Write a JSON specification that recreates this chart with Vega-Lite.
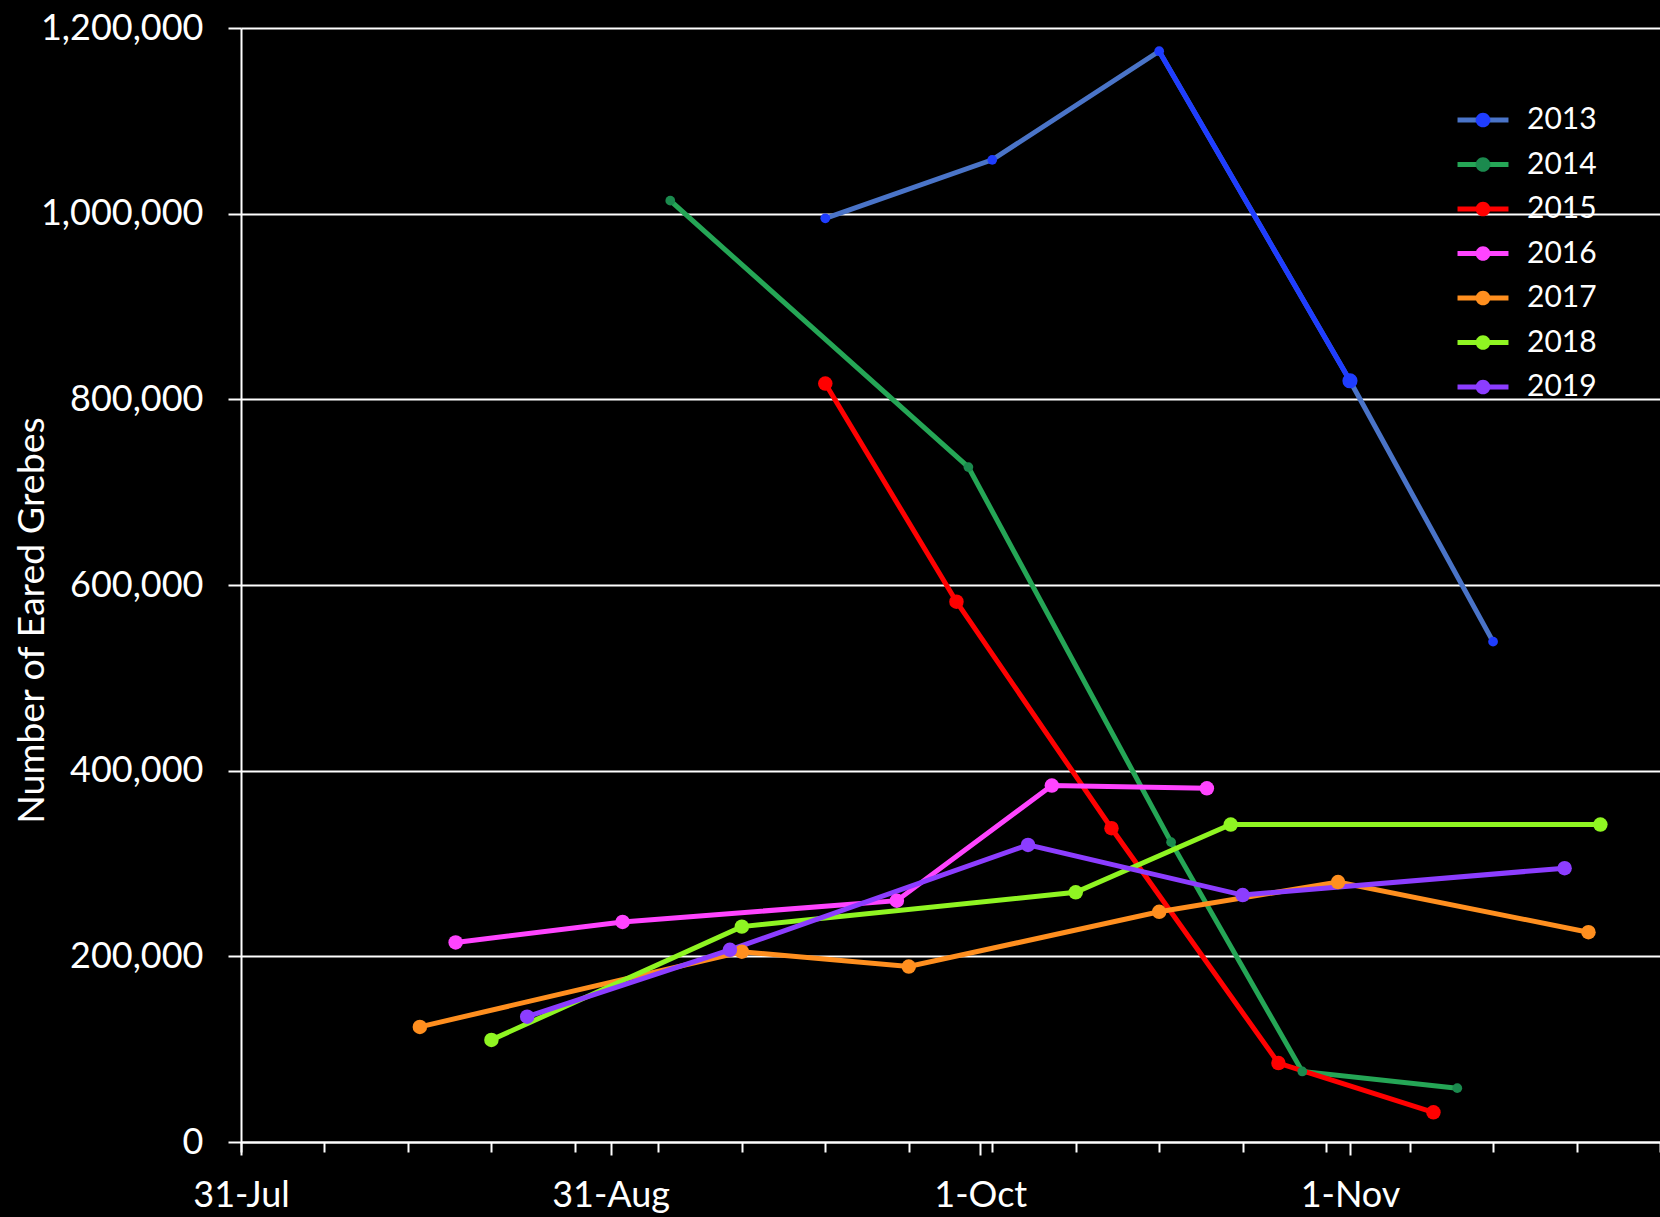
{
  "$schema": "https://vega.github.io/schema/vega-lite/v6.json",
  "width": 1419,
  "height": 1114,
  "autosize": {"type": "none"},
  "padding": {"left": 241, "top": 28, "right": 0, "bottom": 75},
  "background": "black",
  "config": {"view": {"stroke": null}, "font": "Lato"},
  "data": {"values": [
    {"year": "2013", "date": "2000-09-18", "count": 995000},
    {"year": "2013", "date": "2000-10-02", "count": 1058000},
    {"year": "2013", "date": "2000-10-16", "count": 1175000},
    {"year": "2013", "date": "2000-11-01", "count": 820000},
    {"year": "2013", "date": "2000-11-13", "count": 539000},
    {"year": "2014", "date": "2000-09-05", "count": 1014000},
    {"year": "2014", "date": "2000-09-30", "count": 727000},
    {"year": "2014", "date": "2000-10-17", "count": 323000},
    {"year": "2014", "date": "2000-10-28", "count": 76000},
    {"year": "2014", "date": "2000-11-10", "count": 58000},
    {"year": "2015", "date": "2000-09-18", "count": 817000},
    {"year": "2015", "date": "2000-09-29", "count": 582000},
    {"year": "2015", "date": "2000-10-12", "count": 338000},
    {"year": "2015", "date": "2000-10-26", "count": 85000},
    {"year": "2015", "date": "2000-11-08", "count": 32000},
    {"year": "2016", "date": "2000-08-18", "count": 215000},
    {"year": "2016", "date": "2000-09-01", "count": 237000},
    {"year": "2016", "date": "2000-09-24", "count": 260000},
    {"year": "2016", "date": "2000-10-07", "count": 384000},
    {"year": "2016", "date": "2000-10-20", "count": 381000},
    {"year": "2017", "date": "2000-08-15", "count": 124000},
    {"year": "2017", "date": "2000-09-11", "count": 205000},
    {"year": "2017", "date": "2000-09-25", "count": 189000},
    {"year": "2017", "date": "2000-10-16", "count": 248000},
    {"year": "2017", "date": "2000-10-31", "count": 280000},
    {"year": "2017", "date": "2000-11-21", "count": 226000},
    {"year": "2018", "date": "2000-08-21", "count": 110000},
    {"year": "2018", "date": "2000-09-11", "count": 232000},
    {"year": "2018", "date": "2000-10-09", "count": 269000},
    {"year": "2018", "date": "2000-10-22", "count": 342000},
    {"year": "2018", "date": "2000-11-22", "count": 342000},
    {"year": "2019", "date": "2000-08-24", "count": 135000},
    {"year": "2019", "date": "2000-09-10", "count": 207000},
    {"year": "2019", "date": "2000-10-05", "count": 320000},
    {"year": "2019", "date": "2000-10-23", "count": 266000},
    {"year": "2019", "date": "2000-11-19", "count": 295000}
  ]},
  "resolve": {"axis": {"x": "independent"}},
  "layer": [
    {
      "mark": {"type": "line", "strokeWidth": 5},
      "encoding": {
        "x": {
          "field": "date", "type": "temporal",
          "scale": {"type": "utc", "domain": [
            {"year": 2000, "month": 7, "date": 31, "utc": true},
            {"year": 2000, "month": 11, "date": 27, "utc": true}
          ]},
          "axis": {
            "orient": "bottom", "title": null, "grid": false,
            "values": [
              {"year": 2000, "month": 7, "date": 31, "utc": true},
              {"year": 2000, "month": 8, "date": 31, "utc": true},
              {"year": 2000, "month": 10, "date": 1, "utc": true},
              {"year": 2000, "month": 11, "date": 1, "utc": true}
            ],
            "format": "%-d-%b",
            "tickSize": 13, "tickWidth": 2, "tickColor": "white",
            "domainColor": "white", "domainWidth": 2,
            "labelColor": "white", "labelFont": "Lato", "labelFontSize": 36,
            "labelBaseline": "alphabetic", "labelPadding": 51,
            "labelFlush": false, "labelOverlap": false
          }
        },
        "y": {
          "field": "count", "type": "quantitative",
          "scale": {"domain": [0, 1200000], "nice": false},
          "axis": {
            "values": [0, 200000, 400000, 600000, 800000, 1000000, 1200000],
            "format": ",d",
            "grid": true, "gridColor": "white", "gridWidth": 2,
            "tickColor": "white", "tickWidth": 2, "tickSize": 13,
            "domainColor": "white", "domainWidth": 2,
            "labelColor": "white", "labelFont": "Lato", "labelFontSize": 36, "labelPadding": 25,
            "title": "Number of Eared Grebes",
            "titleColor": "white", "titleFont": "Lato", "titleFontSize": 37.5, "titleFontWeight": "normal",
            "titleAngle": 270, "titleAlign": "center", "titleBaseline": "middle",
            "titleX": -209, "titleY": 592
          }
        },
        "stroke": {
          "field": "year", "type": "nominal",
          "scale": {
            "domain": ["2013", "2014", "2015", "2016", "2017", "2018", "2019"],
            "range": ["#4a74c8", "#25a656", "#ff0000", "#ff44ff", "#ff8f1f", "#8ff522", "#8c3dff"]
          },
          "legend": {
            "orient": "none", "legendX": 1227, "legendY": 77, "title": null, "padding": 0,
            "symbolType": "M-3.64,0L3.64,0", "symbolSize": 196, "symbolStrokeWidth": 5,
            "symbolFillColor": "transparent",
            "labelColor": "white", "labelFont": "Lato", "labelFontSize": 30,
            "labelOffset": 29, "rowPadding": 14.5
          }
        }
      }
    },
    {
      "transform": [{"filter": "datum.year === '2013' && (utcFormat(datum.date, '%m-%d') === '10-16' || utcFormat(datum.date, '%m-%d') === '11-01')"}],
      "mark": {"type": "line", "strokeWidth": 5, "color": "#1f3dff"},
      "encoding": {
        "x": {"field": "date", "type": "temporal", "axis": null},
        "y": {"field": "count", "type": "quantitative"}
      }
    },
    {
      "mark": {"type": "circle", "opacity": 1},
      "encoding": {
        "x": {
          "field": "date", "type": "temporal",
          "axis": {
            "orient": "bottom", "title": null, "grid": false, "labels": false, "domain": false,
            "values": [
              {"year": 2000, "month": 7, "date": 31, "utc": true},
              {"year": 2000, "month": 8, "date": 7, "utc": true},
              {"year": 2000, "month": 8, "date": 14, "utc": true},
              {"year": 2000, "month": 8, "date": 21, "utc": true},
              {"year": 2000, "month": 8, "date": 28, "utc": true},
              {"year": 2000, "month": 9, "date": 4, "utc": true},
              {"year": 2000, "month": 9, "date": 11, "utc": true},
              {"year": 2000, "month": 9, "date": 18, "utc": true},
              {"year": 2000, "month": 9, "date": 25, "utc": true},
              {"year": 2000, "month": 10, "date": 2, "utc": true},
              {"year": 2000, "month": 10, "date": 9, "utc": true},
              {"year": 2000, "month": 10, "date": 16, "utc": true},
              {"year": 2000, "month": 10, "date": 23, "utc": true},
              {"year": 2000, "month": 10, "date": 30, "utc": true},
              {"year": 2000, "month": 11, "date": 6, "utc": true},
              {"year": 2000, "month": 11, "date": 13, "utc": true},
              {"year": 2000, "month": 11, "date": 20, "utc": true},
              {"year": 2000, "month": 11, "date": 27, "utc": true}
            ],
            "tickSize": 10, "tickWidth": 2, "tickColor": "white"
          }
        },
        "y": {"field": "count", "type": "quantitative"},
        "size": {"condition": {"test": "datum.year === '2013' || datum.year === '2014'", "value": 95}, "value": 210},
        "fill": {
          "field": "year", "type": "nominal",
          "scale": {"range": ["#1f3dff", "#1b8a4e", "#ff0000", "#ff44ff", "#ff8f1f", "#8ff522", "#8c3dff"]},
          "legend": {
            "orient": "none", "legendX": 1227, "legendY": 77, "title": null, "padding": 0,
            "symbolType": "M1.05,0A1.05,1.05,0,1,1,-1.05,0A1.05,1.05,0,1,1,1.05,0Z",
            "symbolSize": 196, "symbolStrokeWidth": 0,
            "labelColor": "white", "labelOpacity": 0, "labelFont": "Lato", "labelFontSize": 30,
            "labelOffset": 29, "rowPadding": 14.5
          }
        }
      }
    },
    {
      "transform": [{"filter": "datum.year === '2013' && utcFormat(datum.date, '%m-%d') === '11-01'"}],
      "mark": {"type": "circle", "opacity": 1, "color": "#1f3dff", "size": 230},
      "encoding": {
        "x": {"field": "date", "type": "temporal", "axis": null},
        "y": {"field": "count", "type": "quantitative"}
      }
    }
  ]
}
